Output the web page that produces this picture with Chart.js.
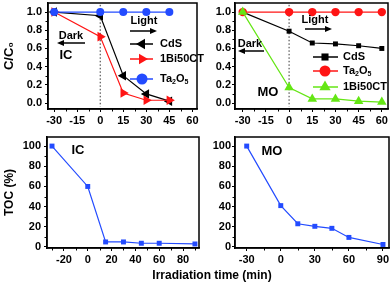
<!DOCTYPE html>
<html>
<head>
<meta charset="utf-8">
<script src="https://cdn.jsdelivr.net/npm/chart.js@4.4.1/dist/chart.umd.min.js"></script>
<style>
  body { margin: 0; background: #fff; width: 392px; height: 284px; overflow: hidden; position: relative; }
  canvas { position: absolute; pointer-events: none; }
  #xtitle { position: absolute; left: 0; width: 424px; top: 268px; text-align: center;
    font: bold 12px "Liberation Sans", Arial, sans-serif; line-height: 14px; color: #000; }
</style>
</head>
<body>
<canvas id="icDeg" width="205" height="130" style="left:0;top:0"></canvas>
<canvas id="moDeg" width="202" height="130" style="left:190px;top:0"></canvas>
<canvas id="icToc" width="205" height="140" style="left:0;top:130px"></canvas>
<canvas id="moToc" width="202" height="140" style="left:190px;top:130px"></canvas>
<div id="xtitle">Irradiation time (min)</div>
<script>
// degradation curves (C/C0)
const icTime = [-30, 0, 15, 30, 45];
const icCdS = [1.0, 0.96, 0.30, 0.10, 0.02];
const icBi50CT = [1.0, 0.73, 0.11, 0.03, 0.03];
const icTa2O5 = [1.0, 1.0, 1.0, 1.0, 1.0];

const moTime = [-30, 0, 15, 30, 45, 60];
const moCdS = [1.0, 0.79, 0.66, 0.65, 0.63, 0.60];
const moTa2O5 = [1.0, 1.0, 1.0, 1.0, 1.0, 1.0];
const moBi50CT = [1.0, 0.17, 0.045, 0.045, 0.02, 0.01];

// TOC removal (%)
const tocTime = [-30, 0, 15, 30, 45, 60, 90];
const tocIC = [100, 60, 5, 5, 3.7, 3.7, 3];
const tocMO = [100, 41, 23, 20.5, 18.5, 9.5, 2.5];

// dark/light boundary guide
const guideX = [0, 0];
const guideY = [1.08, -0.04];

// tick labels
const degXTicks = [-30, -15, 0, 15, 30, 45, 60];
const degXMinor = [-22.5, -7.5, 7.5, 22.5, 37.5, 52.5];
const degYTicks = [0, 0.2, 0.4, 0.6, 0.8, 1.0];
const degYMinor = [0.1, 0.3, 0.5, 0.7, 0.9];
const icTocXTicks = [-20, 0, 20, 40, 60, 80];
const icTocXMinor = [-30, -10, 10, 30, 50, 70, 90];
const moTocXTicks = [-30, 0, 30, 60, 90];
const moTocXMinor = [-15, 15, 45, 75];
const tocYTicks = [0, 20, 40, 60, 80, 100];
const tocYMinor = [10, 30, 50, 70, 90];

const FONT = '"Liberation Sans", Arial, Helvetica, sans-serif';
Chart.defaults.font.family = FONT;
Chart.defaults.font.weight = 'bold';
Chart.defaults.font.size = 11;
Chart.defaults.color = '#000';
Chart.defaults.animation = false;

const BLUE = 'rgb(35,75,255)';
const RED = 'rgb(255,20,20)';
const GREEN = 'rgb(100,230,20)';

// text with "_x" subscripts
function drawRich(ctx, str, x, y, size) {
  let cx = x;
  for (const p of str.split(/(_.)/).filter(Boolean)) {
    const sub = p[0] === '_';
    const t = sub ? p.slice(1) : p;
    ctx.font = `bold ${sub ? Math.round(size * 0.6) : size}px ${FONT}`;
    ctx.fillText(t, cx, sub ? y + size * 0.3 : y);
    cx += ctx.measureText(t).width;
  }
}

const extras = {
  id: 'extras',
  beforeDatasetsDraw(chart, args, o) {
    const { ctx, chartArea: a, scales } = chart;
    ctx.save();
    ctx.strokeStyle = '#000';
    ctx.lineWidth = 1.5;
    ctx.strokeRect(a.left, a.top, a.right - a.left, a.bottom - a.top);
    ctx.lineWidth = 1;
    ctx.beginPath();
    (o.minorX || []).forEach(v => {
      const px = Math.round(scales.x.getPixelForValue(v)) + 0.5;
      ctx.moveTo(px, a.bottom); ctx.lineTo(px, a.bottom + 2.5);
    });
    (o.minorY || []).forEach(v => {
      const py = Math.round(scales.y.getPixelForValue(v)) + 0.5;
      ctx.moveTo(a.left, py); ctx.lineTo(a.left - 2.5, py);
    });
    ctx.stroke();
    ctx.restore();
  },
  afterDatasetsDraw(chart, args, o) {
    const ctx = chart.ctx;
    const ox = o.ox || 0, oy = o.oy || 0;
    ctx.save();
    ctx.fillStyle = '#000';
    ctx.strokeStyle = '#000';
    ctx.textBaseline = 'middle';
    ctx.textAlign = 'center';
    (o.texts || []).forEach(t => {
      ctx.font = `bold ${t.size}px ${FONT}`;
      ctx.fillText(t.t, t.x - ox, t.y - oy);
    });
    (o.arrows || []).forEach(r => {
      const dir = Math.sign(r.x2 - r.x1);
      const y = r.y - oy;
      ctx.lineWidth = 1.5;
      ctx.beginPath();
      ctx.moveTo(r.x1 - ox, y); ctx.lineTo(r.x2 - ox - dir * 5, y);
      ctx.stroke();
      ctx.beginPath();
      ctx.moveTo(r.x2 - ox, y);
      ctx.lineTo(r.x2 - ox - dir * 7, y - 3);
      ctx.lineTo(r.x2 - ox - dir * 7, y + 3);
      ctx.closePath();
      ctx.fill();
    });
    const lg = o.legend;
    if (lg) {
      ctx.textAlign = 'left';
      lg.items.forEach(it => {
        const ds = chart.data.datasets[it.ds];
        const y = it.y - oy;
        ctx.strokeStyle = ds.borderColor;
        ctx.lineWidth = 1.5;
        ctx.beginPath();
        ctx.moveTo(lg.x1 - ox, y); ctx.lineTo(lg.x2 - ox, y);
        ctx.stroke();
        ctx.fillStyle = ds.backgroundColor;
        Chart.helpers.drawPoint(ctx, { pointStyle: ds.pointStyle, rotation: ds.pointRotation || 0,
          radius: it.r, borderWidth: 0 }, lg.mx - ox, y);
        ctx.fillStyle = '#000';
        drawRich(ctx, it.label, lg.tx - ox, y, 11);
      });
    }
    ctx.restore();
  }
};
Chart.register(extras);

function series(label, xs, ys, color, style, r, rot, order) {
  return {
    label, data: xs.map((x, i) => ({ x, y: ys[i] })), showLine: true,
    borderColor: color, backgroundColor: color, borderWidth: 1.2,
    pointStyle: style, pointRadius: r, pointRotation: rot || 0, pointBorderWidth: 0, order
  };
}

function guide() {
  return {
    label: 'guide', data: guideX.map((x, i) => ({ x, y: guideY[i] })), showLine: true,
    borderColor: '#333', borderWidth: 1, borderDash: [1.5, 2], pointRadius: 0, order: 9
  };
}

// fixed axis size, and no label overhang pushed into the layout
function fixSize(size) {
  return s => {
    if (s.isHorizontal()) s.height = size; else s.width = size;
    s.paddingTop = s.paddingBottom = s.paddingLeft = s.paddingRight = 0;
  };
}

function axis(min, max, major, size, pad, extra) {
  return Object.assign({
    type: 'linear', min, max,
    afterBuildTicks: s => { s.ticks = major.map(v => ({ value: v })); },
    afterFit: fixSize(size),
    grid: { drawOnChartArea: false, tickLength: 3, color: '#000', tickWidth: 1 },
    border: { color: '#000', width: 1.5 },
    ticks: { padding: pad, autoSkip: false, maxRotation: 0 }
  }, extra);
}

function makeChart(id, datasets, scales, padding, extrasOpts) {
  return new Chart(document.getElementById(id), {
    type: 'scatter',
    data: { datasets },
    options: {
      responsive: false,
      events: [],
      layout: { padding, autoPadding: false },
      scales,
      plugins: { legend: { display: false }, tooltip: { enabled: false }, extras: extrasOpts }
    }
  });
}

const degYTitle = { display: true, text: 'C/C\u2080', font: { size: 13, weight: 'bold' }, padding: { top: 2, bottom: 0 } };
const tocYTitle = { display: true, text: 'TOC (%)', font: { size: 12, weight: 'bold' }, padding: { top: 2, bottom: 0 } };
const fmt1 = v => v.toFixed(1);

makeChart('icDeg', [
  series('CdS', icTime, icCdS, '#000', 'triangle', 5.5, -90, 2),
  series('1Bi50CT', icTime, icBi50CT, RED, 'triangle', 5.5, 90, 1),
  series('Ta2O5', icTime, icTa2O5, BLUE, 'circle', 4, 0, 0),
  guide()
], {
  x: axis(-34, 63, degXTicks, 21, 2),
  y: axis(-0.066, 1.1, degYTicks, 48, 3, { title: degYTitle, ticks: { padding: 3, callback: fmt1 } })
}, { top: 3, right: 8, left: 0, bottom: 0 }, {
  ox: 0, oy: 0, minorX: degXMinor, minorY: degYMinor,
  texts: [{ t: 'Dark', x: 71, y: 36, size: 11 }, { t: 'IC', x: 66, y: 55, size: 13 }, { t: 'Light', x: 144, y: 21, size: 11 }],
  arrows: [{ x1: 85, x2: 57, y: 43 }, { x1: 130, x2: 157, y: 31 }],
  legend: { x1: 130, x2: 153, mx: 142, tx: 160, items: [
    { ds: 0, label: 'CdS', y: 44, r: 6 },
    { ds: 1, label: '1Bi50CT', y: 59, r: 6 },
    { ds: 2, label: 'Ta_2O_5', y: 79, r: 5.5 }
  ] }
});

makeChart('moDeg', [
  series('CdS', moTime, moCdS, '#000', 'rect', 3.5, 0, 2),
  series('Ta2O5', moTime, moTa2O5, RED, 'circle', 4.2, 0, 1),
  series('1Bi50CT', moTime, moBi50CT, GREEN, 'triangle', 5.5, 0, 0),
  guide()
], {
  x: axis(-35, 64, degXTicks, 21, 2),
  y: axis(-0.066, 1.1, degYTicks, 45, 1, { ticks: { padding: 1, callback: fmt1 } })
}, { top: 3, right: 4, left: 0, bottom: 0 }, {
  ox: 190, oy: 0, minorX: degXMinor, minorY: degYMinor,
  texts: [{ t: 'Light', x: 315, y: 20, size: 11 }, { t: 'Dark', x: 250, y: 44, size: 11 }, { t: 'MO', x: 268, y: 92, size: 13 }],
  arrows: [{ x1: 305, x2: 332, y: 29 }, { x1: 264, x2: 238, y: 51 }],
  legend: { x1: 313, x2: 338, mx: 325, tx: 343, items: [
    { ds: 0, label: 'CdS', y: 57, r: 5 },
    { ds: 1, label: 'Ta_2O_5', y: 71, r: 5.5 },
    { ds: 2, label: '1Bi50CT', y: 87, r: 6.5 }
  ] }
});

makeChart('icToc', [
  series('IC', tocTime, tocIC, BLUE, 'rect', 3.5, 0, 0)
], {
  x: axis(-34.2, 93.4, icTocXTicks, 22, 2),
  y: axis(-1, 109, tocYTicks, 47, 3, { title: tocYTitle })
}, { top: 7, right: 6, left: 0, bottom: 0 }, {
  ox: 0, oy: 130, minorX: icTocXMinor, minorY: tocYMinor,
  texts: [{ t: 'IC', x: 78, y: 150, size: 13 }]
});

makeChart('moToc', [
  series('MO', tocTime, tocMO, BLUE, 'rect', 3.5, 0, 0)
], {
  x: axis(-40.3, 95.3, moTocXTicks, 22, 2),
  y: axis(-1, 109, tocYTicks, 45, 1, { ticks: { padding: 1 } })
}, { top: 7, right: 3, left: 0, bottom: 0 }, {
  ox: 190, oy: 130, minorX: moTocXMinor, minorY: tocYMinor,
  texts: [{ t: 'MO', x: 272, y: 151, size: 13 }]
});
</script>
</body>
</html>
